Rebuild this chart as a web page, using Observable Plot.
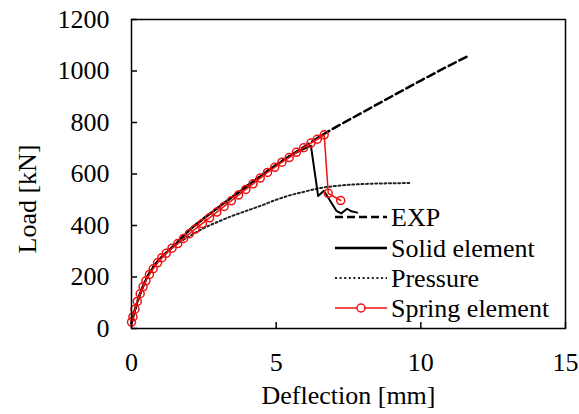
<!DOCTYPE html>
<html>
<head>
<meta charset="utf-8">
<script src="https://cdn.jsdelivr.net/npm/d3@7"></script>
<script src="https://cdn.jsdelivr.net/npm/@observablehq/plot@0.6"></script>
<style>
  html, body { margin: 0; padding: 0; background: white; }
  #chart { position: relative; width: 579px; height: 414px; }
</style>
</head>
<body>
<div id="chart"></div>
<script>
const xTicks = [0, 5, 10, 15];
const yTicks = [0, 200, 400, 600, 800, 1000, 1200];
const seriesNames = ["EXP", "Solid element", "Pressure", "Spring element"];
const xTitle = "Deflection [mm]";
const yTitle = "Load [kN]";

const expX = [0, 0.1, 0.25, 0.5, 0.75, 1, 1.5, 2, 2.5, 3, 3.5, 4, 4.5, 5, 5.5, 6, 6.5, 7, 8, 9, 10, 11, 11.7];
const expY = [20, 65, 120, 190, 238, 272, 325, 382, 428, 470, 512, 554, 595, 635, 672, 708, 745, 778, 840, 902, 963, 1022, 1062];

const solidX = [0, 0.1, 0.25, 0.5, 0.75, 1, 1.5, 2, 2.5, 3, 3.5, 4, 4.5, 5, 5.5, 6, 6.2, 6.45, 6.65, 7.08, 7.25, 7.45, 7.6, 7.8];
const solidY = [20, 65, 120, 190, 238, 272, 325, 382, 428, 470, 512, 554, 595, 635, 672, 700, 710, 515, 535, 457, 447, 465, 455, 450];

const pressX = [0, 0.1, 0.25, 0.5, 1, 1.5, 2, 2.5, 3, 3.5, 4, 4.5, 5, 5.5, 6, 6.5, 7, 7.5, 8, 8.5, 9, 9.6];
const pressY = [20, 65, 120, 190, 270, 322, 358, 390, 415, 438, 458, 478, 500, 518, 532, 545, 553, 558, 561, 563, 564, 565];

const springX = [0, 0.05, 0.12, 0.2, 0.3, 0.4, 0.5, 0.62, 0.75, 0.9, 1.05, 1.2, 1.4, 1.6, 1.8, 2.0, 2.2, 2.45, 2.7, 2.95, 3.2, 3.45, 3.7, 3.95, 4.2, 4.45, 4.7, 4.95, 5.2, 5.45, 5.7, 5.95, 6.2, 6.42, 6.66, 6.8, 7.23];
const springY = [25, 45, 75, 105, 135, 162, 185, 210, 232, 255, 275, 292, 312, 330, 350, 368, 386, 408, 430, 452, 474, 496, 518, 540, 562, 584, 606, 626, 646, 664, 684, 702, 720, 735, 752, 525, 497];

const toRows = (xs, ys) => xs.map((x, i) => ({x, y: ys[i]}));
const exp = toRows(expX, expY);
const solid = toRows(solidX, solidY);
const press = toRows(pressX, pressY);
const spring = toRows(springX, springY);

const FONT = "Liberation Serif";
const RED = "#ee1111";

const chart = Plot.plot({
  width: 579, height: 414,
  marginLeft: 131, marginRight: 14, marginTop: 19, marginBottom: 86,
  x: {domain: [0, 15], axis: null},
  y: {domain: [0, 1200], axis: null},
  marks: [
    Plot.text(xTicks, {x: d => d, text: d => String(d), frameAnchor: "bottom", dy: 34, lineAnchor: "middle", fontSize: 26, fontFamily: FONT, fill: "black"}),
    Plot.text(yTicks, {y: d => d, text: d => String(d), frameAnchor: "left", dx: -22, textAnchor: "end", lineAnchor: "middle", fontSize: 26, fontFamily: FONT, fill: "black"}),
    Plot.tickX(xTicks, {x: d => d, insetTop: 303, stroke: "black", strokeWidth: 1.5}),
    Plot.tickY(yTicks, {y: d => d, insetRight: 428, stroke: "black", strokeWidth: 1.5}),
    Plot.line(press, {x: "x", y: "y", stroke: "#222", strokeWidth: 2, strokeDasharray: "2,2.6", curve: "monotone-x"}),
    Plot.line(exp, {x: "x", y: "y", stroke: "black", strokeWidth: 2.5, strokeDasharray: "8,4", curve: "monotone-x"}),
    Plot.line(solid, {x: "x", y: "y", stroke: "black", strokeWidth: 2}),
    Plot.line(spring, {x: "x", y: "y", stroke: RED, strokeWidth: 1.5}),
    Plot.dot(spring, {x: "x", y: "y", r: 4, stroke: RED, strokeWidth: 1.5, fill: "none"}),
    Plot.frame({stroke: "black", strokeWidth: 1.5}),
    Plot.text([xTitle], {text: d => d, frameAnchor: "bottom", dy: 67, lineAnchor: "middle", fontSize: 26, fontFamily: FONT, fill: "black"})
  ]
});

document.getElementById("chart").appendChild(chart);

const svg = d3.select(chart);
svg.append("text").attr("transform", "translate(27,199) rotate(-90)").attr("dy", "0.35em")
  .attr("text-anchor", "middle").attr("font-size", 26).attr("font-family", FONT)
  .attr("fill", "black").text(yTitle);

// Legend drawn inside the plot area (bottom right)
const lg = svg.append("g").attr("font-size", 26).attr("font-family", FONT).attr("text-anchor", "start");
const rowY = [217, 248, 278, 308];
const styles = [
  {stroke: "black", width: 2.5, dash: "8,4"},
  {stroke: "black", width: 2.5, dash: null},
  {stroke: "#222", width: 2, dash: "2,2.6"},
  {stroke: RED, width: 1.5, dash: null}
];
seriesNames.forEach((name, i) => {
  const y = rowY[i];
  lg.append("line").attr("x1", 335).attr("x2", 387).attr("y1", y).attr("y2", y)
    .attr("stroke", styles[i].stroke).attr("stroke-width", styles[i].width)
    .attr("stroke-dasharray", styles[i].dash);
  if (i === 3) {
    lg.append("circle").attr("cx", 361).attr("cy", y).attr("r", 4)
      .attr("fill", "white").attr("stroke", RED).attr("stroke-width", 1.5);
  }
  lg.append("text").attr("x", 391).attr("y", y).attr("dy", "0.35em")
    .attr("fill", "black").text(name);
});

svg.selectAll("text").style("font-family", FONT);
</script>
</body>
</html>
